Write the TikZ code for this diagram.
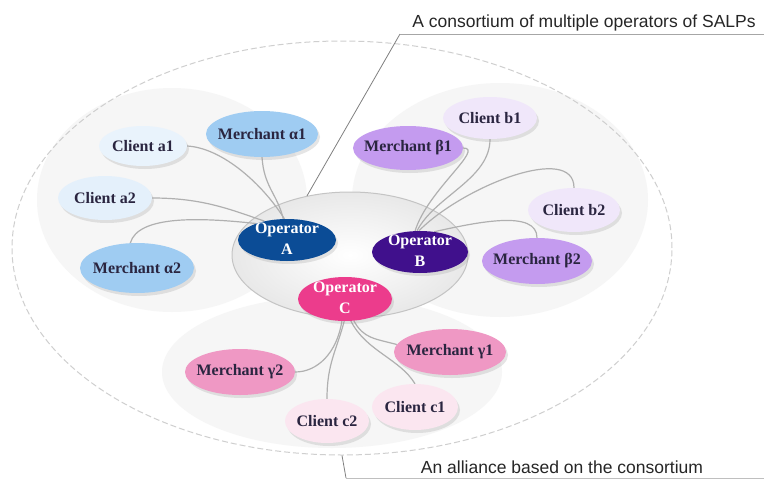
\documentclass[tikz,border=0pt]{standalone}
\usepackage{fontspec}
\setmainfont{Liberation Serif}
\newfontfamily\labfont{Liberation Sans}
\usetikzlibrary{shapes.geometric,backgrounds,shadows}
\definecolor{clA}{HTML}{E4F0FB}
\definecolor{mA}{HTML}{9FCCF2}
\definecolor{opAc}{HTML}{0B4C96}
\definecolor{opBc}{HTML}{40108C}
\definecolor{opCc}{HTML}{EC3C8C}
\definecolor{mB}{HTML}{C49BEF}
\definecolor{clB}{HTML}{F0E7FA}
\definecolor{mG}{HTML}{EF98C4}
\definecolor{clG}{HTML}{FBE6F0}
\definecolor{ntext}{HTML}{2A2540}
\definecolor{conncol}{HTML}{B0B0B0}
\definecolor{blobcol}{HTML}{F6F6F6}
\definecolor{dashcol}{HTML}{CFCFCF}
\definecolor{consborder}{HTML}{C4C4C4}
\tikzset{
  nd/.style={ellipse, inner sep=0pt, text=ntext,
    font=\fontsize{16}{19}\selectfont\bfseries,
    drop shadow={shadow xshift=2pt, shadow yshift=-3pt, opacity=0.25, fill=black!40}},
  opnode/.style={nd, text=white, font=\fontsize{16}{21}\selectfont\bfseries, inner ysep=-8pt},
  conn/.style={draw=conncol, line width=1.2pt},
  leader/.style={draw=black!50, line width=0.8pt},
  labtext/.style={font=\labfont\fontsize{17.5}{20}\selectfont, text=black!85, inner sep=0pt}
}
\begin{document}
\begin{tikzpicture}[x=1pt,y=-1pt]
\useasboundingbox (0,0) rectangle (764,480);
\begin{scope}[on background layer]
  \fill[white] (0,0) rectangle (764,480);
  % petal blobs
  \fill[blobcol] (172,200) ellipse [x radius=135, y radius=112];
  \fill[blobcol] (500,200) ellipse [x radius=148, y radius=117];
  \fill[blobcol] (332,372) ellipse [x radius=170, y radius=76];
  % alliance ellipse
  \node[ellipse, minimum width=660pt, minimum height=414pt, draw=dashcol,
        line width=1pt, dash pattern=on 6pt off 3pt] (all) at (342,248) {};
  % consortium ellipse
  \node[ellipse, minimum width=236pt, minimum height=126pt, draw=consborder,
        line width=1pt, inner color=white, outer color=black!9] (cons) at (350,255) {};
\end{scope}

% operators
\node[opnode, fill=opAc, minimum width=98pt, minimum height=42pt] (opA) at (287,240)
  {\makebox[0pt]{\begin{tabular}{@{}c@{}}Operator\\A\end{tabular}}};
\node[opnode, fill=opBc, minimum width=96pt, minimum height=42pt] (opB) at (420,252)
  {\makebox[0pt]{\begin{tabular}{@{}c@{}}Operator\\B\end{tabular}}};
\node[opnode, fill=opCc, minimum width=94pt, minimum height=44pt] (opC) at (345,299)
  {\makebox[0pt]{\begin{tabular}{@{}c@{}}Operator\\C\end{tabular}}};

% cluster A
\node[nd, fill=clA!80!white, minimum width=88pt, minimum height=40pt] (ca1) at (143,146) {\makebox[0pt]{Client a1}};
\node[nd, fill=mA, minimum width=112pt, minimum height=46pt] (ma1) at (262,134) {\makebox[0pt]{Merchant α1}};
\node[nd, fill=clA, minimum width=94pt, minimum height=44pt] (ca2) at (105,198) {\makebox[0pt]{Client a2}};
\node[nd, fill=mA, minimum width=114pt, minimum height=50pt] (ma2) at (137,268) {\makebox[0pt]{Merchant α2}};

% cluster B
\node[nd, fill=mB, minimum width=110pt, minimum height=44pt] (mb1) at (408,148) {\makebox[0pt]{Merchant β1}};
\node[nd, fill=clB, minimum width=94pt, minimum height=42pt] (cb1) at (490,118) {\makebox[0pt]{Client b1}};
\node[nd, fill=clB, minimum width=92pt, minimum height=44pt] (cb2) at (574,210) {\makebox[0pt]{Client b2}};
\node[nd, fill=mB, minimum width=110pt, minimum height=46pt] (mb2) at (537,261) {\makebox[0pt]{Merchant β2}};

% cluster C
\node[nd, fill=mG, minimum width=112pt, minimum height=46pt] (mg1) at (450,352) {\makebox[0pt]{Merchant γ1}};
\node[nd, fill=mG, minimum width=110pt, minimum height=46pt] (mg2) at (240,372) {\makebox[0pt]{Merchant γ2}};
\node[nd, fill=clG, minimum width=86pt, minimum height=46pt] (cc1) at (415,407) {\makebox[0pt]{Client c1}};
\node[nd, fill=clG, minimum width=84pt, minimum height=44pt] (cc2) at (327,421) {\makebox[0pt]{Client c2}};

% labels
\node[labtext, anchor=base] (tlab) at (584,27) {A consortium of multiple operators of SALPs};
\node[labtext, anchor=base] (blab) at (562,473) {An alliance based on the consortium};
\coordinate (tl) at (400,34);
\coordinate (tr) at (764,34);
\coordinate (bl) at (346,478);
\coordinate (br) at (764,478);

\begin{scope}[on background layer]
  % cluster A connectors
  \draw[conn] (ca1.east) .. controls +(35,2) and +(-22,-35) .. (opA.97);
  \draw[conn] (ma1.south) .. controls +(2,30) and +(-6,-25) .. (opA.100);
  \draw[conn] (ca2.east) .. controls +(50,0) and +(-35,-12) .. (opA.140);
  \draw[conn] (ma2.105) .. controls +(8,-28) and +(-55,-6) .. (opA.152);
  % cluster B connectors
  \draw[conn] (mb1.east) .. controls +(22,0) and +(12,-40) .. (opB.103);
  \draw[conn] (cb1.south) .. controls +(0,40) and +(18,-35) .. (opB.98);
  \draw[conn] (cb2.north) .. controls +(0,-45) and +(45,-45) .. (opB.93);
  \draw[conn] (mb2.north) .. controls +(0,-28) and +(45,-10) .. (opB.55);
  % cluster C connectors
  \draw[conn] (opC.292) .. controls +(10,18) and +(-22,-6) .. (mg1.172);
  \draw[conn] (opC.285) .. controls +(15,30) and +(-15,-25) .. (cc1.north);
  \draw[conn] (opC.268) .. controls +(-8,30) and +(0,-35) .. (cc2.north);
  \draw[conn] (opC.262) .. controls +(-5,32) and +(22,0) .. (mg2.east);
  % label leaders
  \draw[leader] (cons.126) -- (tl);
  \draw[draw=black!35, line width=0.8pt] (tl) -- (tr);
  \draw[leader] (all.south) -- (bl);
  \draw[draw=black!25, line width=0.8pt] (bl) -- (br);
\end{scope}
\end{tikzpicture}
\end{document}
